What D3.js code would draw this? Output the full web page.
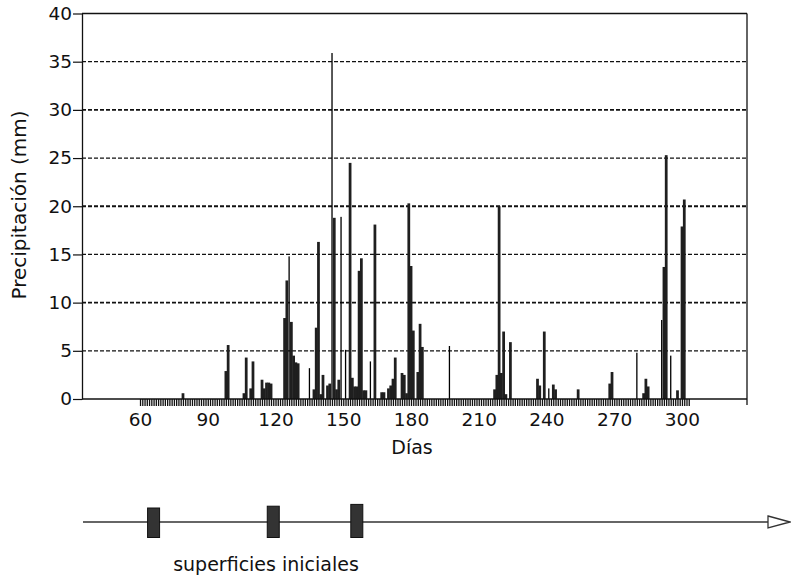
<!DOCTYPE html>
<html>
<head>
<meta charset="utf-8">
<script src="https://cdn.jsdelivr.net/npm/d3@7"></script>
<style>
  html, body { margin: 0; padding: 0; background: #fff; }
  svg { display: block; }
  text { font-family: "DejaVu Sans", "Liberation Sans", sans-serif; fill: #111; }
</style>
</head>
<body>
<svg id="chart" width="791" height="576"></svg>
<script>
// ---- Data ----
// Daily precipitation, wide bars (day of year, mm)
const diasBarras = [79, 98, 99, 106, 107, 109, 110, 114, 115, 116, 117, 118, 124, 125, 127, 128, 129, 130,
  137, 138, 139, 140, 141, 143, 144, 146, 147, 148, 153, 154, 155, 156, 157, 158, 159, 160, 164, 167, 168,
  170, 171, 172, 173, 176, 177, 178, 179, 180, 181, 183, 184, 185, 217, 218, 219, 220, 221, 222, 224,
  236, 237, 239, 243, 244, 254, 268, 269, 283, 284, 285, 292, 293, 298, 300, 301];
const lluviaBarras = [0.6, 2.9, 5.6, 0.6, 4.3, 1.1, 3.9, 2.0, 1.1, 1.7, 1.7, 1.6, 8.4, 12.3, 8.0, 4.5, 3.8, 3.7,
  1.0, 7.4, 16.3, 0.5, 2.5, 1.4, 1.6, 18.8, 1.0, 2.0, 24.5, 2.2, 1.3, 1.3, 13.3, 14.6, 0.9, 0.9, 18.1, 0.7, 0.7,
  1.1, 1.4, 2.1, 4.3, 2.7, 2.5, 0.6, 20.3, 13.8, 7.1, 2.8, 7.8, 5.4, 1.0, 2.5, 20.0, 2.7, 7.0, 0.5, 5.9,
  2.1, 1.4, 7.0, 1.5, 1.0, 1.0, 1.6, 2.8, 0.6, 2.1, 1.3, 13.7, 25.3, 0.9, 17.9, 20.7];
// Daily precipitation, thin lines (day of year, mm)
const diasLineas = [126, 135, 145, 149, 151, 162, 197, 241, 280, 291, 295];
const lluviaLineas = [14.8, 3.2, 35.9, 18.9, 5.1, 3.9, 5.5, 1.1, 4.8, 8.2, 4.5];
// Axis ticks
const ticksY = [0, 5, 10, 15, 20, 25, 30, 35, 40];
const ticksX = [60, 90, 120, 150, 180, 210, 240, 270, 300];
const diasMedidos = d3.range(60, 304);
// Timeline: days of the initial surfaces
const superficies = [66, 119, 156];
const etiquetaY = "Precipitación (mm)";
const etiquetaX = "Días";
const etiquetaLinea = "superficies iniciales";

// ---- Layout ----
const L = 82, R = 747, T = 13.5, B = 399;
const svg = d3.select("#chart");
const x = d3.scaleLinear().domain([34.3, 328.8]).range([L, R]);
const y = d3.scaleLinear().domain([0, 40]).range([B, T]);

// grid lines
svg.append("g").selectAll("line")
  .data(ticksY.filter(v => v > 0 && v < 40))
  .join("line")
  .attr("x1", L).attr("x2", R)
  .attr("y1", d => y(d)).attr("y2", d => y(d))
  .attr("stroke", "#111")
  .attr("stroke-width", (d, i) => (i % 2 === 0 ? 1.3 : 1.8))
  .attr("stroke-dasharray", "4,2");

// frame
svg.append("line").attr("x1", L).attr("x2", R).attr("y1", T).attr("y2", T).attr("stroke", "#111").attr("stroke-width", 1.3);
svg.append("line").attr("x1", R).attr("x2", R).attr("y1", T).attr("y2", B + 6).attr("stroke", "#111").attr("stroke-width", 1.3);

// bars
const barras = diasBarras.map((d, i) => ({ dia: d, v: lluviaBarras[i] }));
const lineas = diasLineas.map((d, i) => ({ dia: d, v: lluviaLineas[i] }));
const bw = x(1) - x(0);
svg.append("g").selectAll("rect")
  .data(barras).join("rect")
  .attr("x", d => x(d.dia) - bw / 2 - 0.2)
  .attr("width", bw + 0.5)
  .attr("y", d => y(d.v))
  .attr("height", d => y(0) - y(d.v))
  .attr("fill", "#1f1f1f");
svg.append("g").selectAll("rect")
  .data(lineas).join("rect")
  .attr("x", d => x(d.dia) - 0.6)
  .attr("width", 1.3)
  .attr("y", d => y(d.v))
  .attr("height", d => y(0) - y(d.v))
  .attr("fill", "#000");

// y axis
const gy = svg.append("g").attr("transform", `translate(${L},0)`)
  .call(d3.axisLeft(y).tickValues(ticksY).tickSize(9).tickPadding(1).tickSizeOuter(0));
gy.select(".domain").attr("stroke", "#111").attr("stroke-width", 1.3);
gy.selectAll(".tick line").attr("stroke", "#111").attr("stroke-width", 1.2);
gy.selectAll(".tick text").style("font-size", "18.5px").style("font-family", "DejaVu Sans").attr("fill", "#111");

// x axis: daily ticks
const gxt = svg.append("g").attr("transform", `translate(0,${B})`)
  .call(d3.axisBottom(x).tickValues(diasMedidos).tickSize(7).tickFormat("").tickSizeOuter(0));
gxt.select(".domain").remove();
gxt.selectAll(".tick line").attr("stroke", "#111").attr("stroke-width", 1.3);
// baseline
svg.append("line").attr("x1", L).attr("x2", R).attr("y1", B).attr("y2", B).attr("stroke", "#111").attr("stroke-width", 1.3);
// x axis labels
const gx = svg.append("g").attr("transform", `translate(0,${B})`)
  .call(d3.axisBottom(x).tickValues(ticksX).tickSize(0).tickPadding(14));
gx.select(".domain").remove();
gx.selectAll(".tick text").style("font-size", "18.5px").style("font-family", "DejaVu Sans").attr("fill", "#111");

// axis titles
svg.append("text")
  .attr("transform", "translate(26,205) rotate(-90)")
  .attr("text-anchor", "middle")
  .style("font-size", "20px")
  .text(etiquetaY);
svg.append("text")
  .attr("x", 412).attr("y", 454)
  .attr("text-anchor", "middle")
  .style("font-size", "19px")
  .text(etiquetaX);

// timeline
const yl = 522;
svg.append("line").attr("x1", x.range()[0] + 1).attr("x2", 768).attr("y1", yl).attr("y2", yl)
  .attr("stroke", "#333").attr("stroke-width", 1.4);
svg.append("path")
  .attr("d", `M768,${yl - 6} L790,${yl} L768,${yl + 6} Z`)
  .attr("fill", "#fff").attr("stroke", "#333").attr("stroke-width", 1.3);
svg.append("g").selectAll("rect")
  .data(superficies).join("rect")
  .attr("x", d => x(d) - 6)
  .attr("width", 12)
  .attr("y", (d, i) => 508 - i * 1.8)
  .attr("height", (d, i) => 29.5 + i * 1.8)
  .attr("fill", "#333").attr("stroke", "#111").attr("stroke-width", 1);
svg.append("text")
  .attr("x", 266).attr("y", 571)
  .attr("text-anchor", "middle")
  .style("font-size", "19px")
  .text(etiquetaLinea);
</script>
</body>
</html>
